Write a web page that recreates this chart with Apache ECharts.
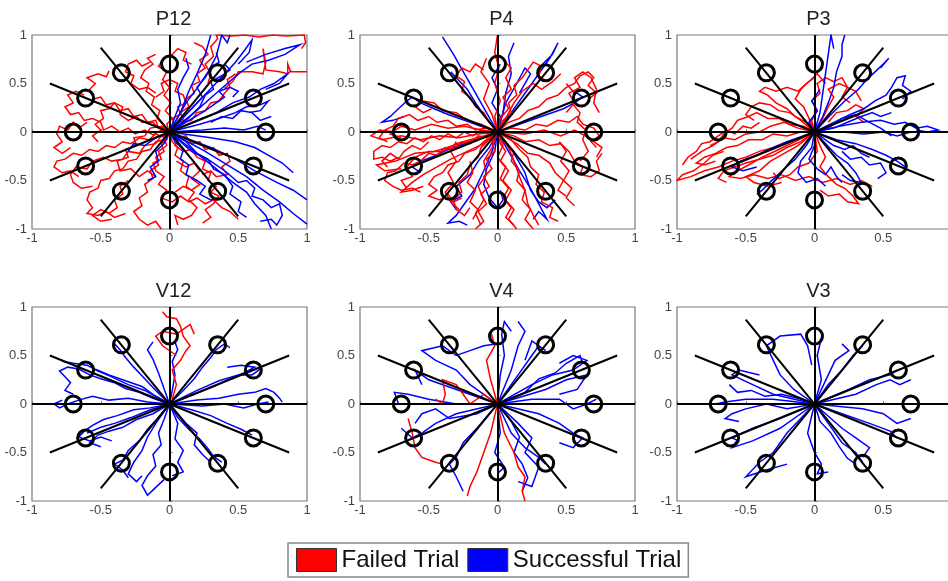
<!DOCTYPE html>
<html>
<head>
<meta charset="utf-8">
<script src="https://cdn.jsdelivr.net/npm/echarts@6/dist/echarts.min.js"></script>
<style>
html,body{margin:0;padding:0;background:#fff;overflow:hidden;}
#chart{width:960px;height:581px;}
</style>
</head>
<body>
<div id="chart"></div>
<script>
// ---------------- DATA ----------------
const panelTitles = ['P12', 'P4', 'P3', 'V12', 'V4', 'V3'];
const tickValues = [-1, -0.5, 0, 0.5, 1];
const seriesNames = ['Failed Trial', 'Successful Trial'];

// target circles (x, y)
const targetX = [0.7, 0.61, 0.35, 0, -0.35, -0.61, -0.7, -0.61, -0.35, 0, 0.35, 0.61];
const targetY = [0, 0.35, 0.61, 0.7, 0.61, 0.35, 0, -0.35, -0.61, -0.7, -0.61, -0.35];

// guide lines through origin [x1, y1, x2, y2]
const guideLines = [
  [-1, 0, 1, 0],
  [0, -1, 0, 1],
  [-0.87, 0.5, 0.87, -0.5],
  [-0.87, -0.5, 0.87, 0.5],
  [-0.5, 0.87, 0.5, -0.87],
  [-0.5, -0.87, 0.5, 0.87]
];

// trajectories: each path is a flat list x1,y1,x2,y2,...
const P12_failed = [
  [0,0, -0.04,0.06, -0.08,0.04, -0.1,0.12, -0.16,0.1, -0.2,0.18, -0.26,0.16, -0.3,0.24, -0.36,0.22, -0.4,0.3, -0.46,0.28, -0.5,0.36, -0.55,0.34, -0.58,0.44, -0.54,0.5, -0.6,0.56, -0.52,0.6, -0.46,0.57, -0.44,0.63],
  [0,0, -0.06,0.02, -0.12,-0.03, -0.18,0.02, -0.25,-0.02, -0.3,0.04, -0.36,0.0, -0.42,0.06, -0.48,0.02, -0.5,0.1, -0.56,0.14, -0.62,0.12, -0.66,0.2, -0.72,0.18, -0.76,0.26, -0.7,0.3, -0.74,0.38, -0.68,0.42, -0.62,0.38],
  [0,0, -0.05,-0.05, -0.1,-0.02, -0.15,-0.08, -0.22,-0.06, -0.28,-0.12, -0.34,-0.1, -0.4,-0.16, -0.46,-0.14, -0.52,-0.2, -0.58,-0.18, -0.64,-0.24, -0.7,-0.22, -0.76,-0.28, -0.82,-0.3, -0.84,-0.36, -0.78,-0.42, -0.72,-0.4, -0.66,-0.46],
  [0,0, -0.04,-0.08, -0.1,-0.1, -0.14,-0.18, -0.2,-0.2, -0.24,-0.28, -0.3,-0.3, -0.34,-0.38, -0.4,-0.4, -0.44,-0.48, -0.5,-0.5, -0.52,-0.58, -0.58,-0.62, -0.6,-0.7, -0.56,-0.78, -0.6,-0.84, -0.52,-0.86, -0.46,-0.82, -0.4,-0.88, -0.32,-0.84],
  [0,0, -0.02,-0.08, -0.06,-0.12, -0.04,-0.2, -0.1,-0.26, -0.08,-0.34, -0.14,-0.4, -0.12,-0.48, -0.18,-0.54, -0.16,-0.62, -0.22,-0.68, -0.2,-0.76, -0.26,-0.82, -0.22,-0.9, -0.16,-0.96, -0.1,-0.92, -0.06,-1.0],
  [0,0, 0.02,-0.1, 0.06,-0.16, 0.04,-0.24, 0.1,-0.3, 0.08,-0.4, 0.14,-0.46, 0.12,-0.56, 0.18,-0.62, 0.14,-0.7, 0.2,-0.78, 0.16,-0.86, 0.1,-0.9, 0.04,-0.86, 0.06,-0.96],
  [0,0, 0.06,-0.06, 0.12,-0.04, 0.16,-0.12, 0.22,-0.1, 0.26,-0.18, 0.32,-0.16, 0.36,-0.24, 0.42,-0.22, 0.44,-0.3, 0.38,-0.36, 0.42,-0.44, 0.34,-0.46, 0.3,-0.4, 0.24,-0.44],
  [0,0, -0.02,0.08, 0.02,0.14, -0.03,0.22, 0.01,0.3, -0.04,0.38, 0,0.46, -0.05,0.54, -0.02,0.62, -0.08,0.68, -0.04,0.76, 0.02,0.8, 0.06,0.86, 0.12,0.82, 0.1,0.74, 0.16,0.7],
  [0,0, -0.05,0.08, -0.09,0.14, -0.07,0.22, -0.13,0.28, -0.11,0.36, -0.17,0.42, -0.15,0.5, -0.21,0.56, -0.18,0.64, -0.12,0.7, -0.16,0.76, -0.1,0.8],
  [0,0, 0.04,0.08, 0.1,0.12, 0.08,0.2, 0.14,0.26, 0.12,0.34, 0.18,0.4, 0.16,0.48, 0.22,0.52, 0.2,0.6, 0.26,0.66, 0.22,0.74, 0.28,0.8, 0.24,0.88, 0.18,0.92],
  [0.28,0.5, 0.3,0.6, 0.26,0.7, 0.32,0.78, 0.3,0.88, 0.35,0.96, 0.34,1.0, 0.45,0.99, 0.55,1.0, 0.65,0.98, 0.75,1.0, 0.85,0.99, 0.98,1.0, 0.99,0.92, 0.96,0.86],
  [0.4,0.45, 0.46,0.52, 0.5,0.62, 0.6,0.62, 0.68,0.6, 0.7,0.72, 0.68,0.86, 0.7,0.64, 0.8,0.62, 0.86,0.6, 0.86,0.7, 0.88,0.62, 1.0,0.62],
  [0,0, 0.06,0.04, 0.1,0.1, 0.16,0.12, 0.2,0.2, 0.26,0.22, 0.3,0.3, 0.36,0.32, 0.4,0.4, 0.44,0.46, 0.42,0.54, 0.48,0.6],
  [0,0, -0.08,0.04, -0.12,0.1, -0.2,0.1, -0.24,0.16, -0.3,0.12, -0.36,0.18, -0.34,0.26, -0.4,0.3, -0.44,0.24, -0.5,0.22, -0.48,0.14, -0.54,0.08, -0.5,0.02, -0.56,-0.04, -0.52,-0.1],
  [0,0, -0.06,-0.04, -0.1,-0.12, -0.18,-0.14, -0.22,-0.22, -0.3,-0.2, -0.34,-0.28, -0.42,-0.3, -0.48,-0.26, -0.56,-0.3, -0.6,-0.38, -0.68,-0.36, -0.72,-0.44, -0.7,-0.52, -0.64,-0.58, -0.56,-0.56],
  [0,0, -0.04,-0.06, -0.02,-0.14, -0.08,-0.2, -0.06,-0.28, -0.12,-0.32, -0.1,-0.4, -0.04,-0.46, -0.08,-0.54, -0.02,-0.6, -0.06,-0.68, 0.02,-0.72, 0.08,-0.66, 0.14,-0.72, 0.2,-0.68, 0.26,-0.74, 0.32,-0.7, 0.38,-0.78, 0.44,-0.82, 0.5,-0.9],
  [0,0, 0.06,-0.08, 0.04,-0.14, 0.1,-0.2, 0.16,-0.18, 0.2,-0.26, 0.26,-0.3, 0.24,-0.38, 0.3,-0.42, 0.28,-0.5, 0.34,-0.56, 0.3,-0.62, 0.36,-0.66, 0.32,-0.74, 0.26,-0.8, 0.3,-0.88, 0.24,-0.94],
  [-0.1,0.4, -0.16,0.46, -0.22,0.44, -0.28,0.5, -0.26,0.58, -0.32,0.62, -0.3,0.7, -0.24,0.74, -0.2,0.68, -0.14,0.72],
  [-0.3,-0.5, -0.36,-0.56, -0.34,-0.64, -0.4,-0.7, -0.38,-0.78, -0.44,-0.84, -0.5,-0.8, -0.56,-0.86, -0.5,-0.92, -0.42,-0.9],
  [0,0, -0.06,0.06, -0.14,0.04, -0.18,-0.04, -0.26,-0.06, -0.24,-0.14, -0.32,-0.18, -0.3,-0.26, -0.38,-0.3, -0.36,-0.4, -0.28,-0.38, -0.22,-0.46, -0.16,-0.4, -0.1,-0.46],
  [0,0, 0.04,0.06, 0.02,0.14, 0.08,0.18, 0.06,0.26, 0.12,0.3, 0.1,0.38, 0.04,0.42, 0.06,0.5, 0,0.54, -0.06,0.5, -0.04,0.42, -0.1,0.36],
  [-0.6,0.1, -0.66,0.04, -0.7,0.1, -0.74,0.02, -0.8,0.06, -0.82,-0.02, -0.78,-0.1, -0.84,-0.16, -0.78,-0.22, -0.72,-0.16],
  [0.05,-0.3, 0.12,-0.36, 0.18,-0.32, 0.22,-0.4, 0.16,-0.48, 0.22,-0.54, 0.16,-0.6, 0.1,-0.56, 0.04,-0.62]
];
const P12_success = [
  [0,0, 0.08,0.2, 0.14,0.42, 0.2,0.6, 0.26,0.8, 0.3,1.0],
  [0,0, 0.12,0.3, 0.2,0.45, 0.28,0.62, 0.34,0.78, 0.38,1.0, 0.42,0.92, 0.44,1.0],
  [0,0, 0.18,0.2, 0.3,0.35, 0.42,0.5, 0.52,0.62, 0.6,0.7, 0.72,0.74, 0.84,0.8, 0.95,0.9, 0.84,0.86, 0.7,0.8, 0.56,0.72],
  [0,0, 0.2,0.3, 0.35,0.52, 0.48,0.72, 0.55,0.85, 0.6,0.95, 0.58,0.82, 0.5,0.7],
  [0,0, 0.2,0.12, 0.34,0.2, 0.46,0.3, 0.58,0.36, 0.66,0.44, 0.76,0.5, 0.82,0.56, 0.86,0.6, 0.8,0.5, 0.7,0.44],
  [0,0, 0.22,0.08, 0.36,0.14, 0.48,0.2, 0.56,0.26, 0.66,0.28, 0.72,0.32, 0.66,0.22, 0.58,0.2],
  [0,0, 0.26,0.22, 0.34,0.3, 0.4,0.36, 0.36,0.42, 0.44,0.46, 0.5,0.42, 0.46,0.36],
  [0,0, 0.12,0.12, 0.22,0.26, 0.26,0.38, 0.32,0.44, 0.3,0.52, 0.38,0.58, 0.44,0.64, 0.4,0.7],
  [0,0, 0.3,-0.16, 0.48,-0.28, 0.62,-0.4, 0.78,-0.52, 0.9,-0.6, 1.0,-0.7],
  [0,0, 0.26,-0.2, 0.42,-0.34, 0.56,-0.46, 0.68,-0.6, 0.8,-0.72, 0.9,-0.84, 1.0,-0.95],
  [0,0, 0.2,-0.22, 0.34,-0.38, 0.46,-0.52, 0.56,-0.62, 0.62,-0.74, 0.7,-0.86, 0.74,-1.0],
  [0,0, 0.16,-0.2, 0.3,-0.3, 0.42,-0.42, 0.5,-0.52, 0.56,-0.5, 0.62,-0.58, 0.6,-0.66, 0.68,-0.7, 0.74,-0.78, 0.8,-0.74, 0.82,-0.86, 0.78,-0.96, 0.74,-0.9, 0.66,-0.92],
  [0,0, 0.12,-0.1, 0.2,-0.22, 0.28,-0.28, 0.32,-0.38, 0.4,-0.44, 0.46,-0.56, 0.44,-0.64, 0.52,-0.72, 0.5,-0.82, 0.56,-0.88],
  [0,0, 0.3,-0.06, 0.48,-0.1, 0.62,-0.16, 0.72,-0.24, 0.82,-0.32, 0.9,-0.42],
  [0,0, 0.24,0.02, 0.4,0.04, 0.54,0.02, 0.64,0.06, 0.7,0.02],
  [0,0, 0.04,-0.1, 0.1,-0.18, 0.08,-0.28, 0.14,-0.34, 0.12,-0.44, 0.2,-0.5, 0.26,-0.56, 0.22,-0.64, 0.3,-0.7, 0.36,-0.68],
  [0,0, -0.04,-0.12, -0.1,-0.2, -0.08,-0.3, -0.14,-0.36, -0.1,-0.46, -0.16,-0.5],
  [0,0, 0.04,0.16, 0.08,0.3, 0.06,0.44, 0.1,0.56, 0.14,0.66, 0.12,0.76],
  [0,0, 0.16,0.24, 0.24,0.36, 0.2,0.46, 0.26,0.56, 0.3,0.66, 0.36,0.72, 0.34,0.82],
  [0,0, -0.1,-0.06, -0.18,-0.14, -0.26,-0.12, -0.3,-0.2],
  [0.3,0.1, 0.38,0.16, 0.46,0.14, 0.52,0.22, 0.6,0.2, 0.66,0.12, 0.74,0.16]
];

const P4_failed = [
  [0,0, -0.06,-0.02, -0.12,0.02, -0.18,-0.04, -0.24,0.0, -0.3,-0.06, -0.36,-0.02, -0.42,-0.08, -0.48,-0.04, -0.54,-0.1, -0.6,-0.06, -0.66,-0.12, -0.72,-0.1, -0.78,-0.16, -0.84,-0.14, -0.9,-0.2, -0.9,-0.28, -0.84,-0.26, -0.78,-0.3, -0.72,-0.26],
  [0,0, -0.08,-0.06, -0.14,-0.04, -0.2,-0.12, -0.26,-0.1, -0.32,-0.18, -0.38,-0.16, -0.44,-0.24, -0.5,-0.22, -0.56,-0.3, -0.62,-0.34, -0.68,-0.32, -0.74,-0.4, -0.8,-0.42, -0.82,-0.5, -0.76,-0.56, -0.7,-0.6, -0.62,-0.58, -0.56,-0.62],
  [0,0, -0.08,0.04, -0.16,0.02, -0.22,0.08, -0.3,0.06, -0.36,0.12, -0.44,0.1, -0.5,0.16, -0.58,0.12, -0.64,0.18, -0.72,0.14, -0.76,0.06, -0.82,0.02, -0.86,-0.06, -0.8,-0.1],
  [0,0, -0.1,-0.1, -0.16,-0.18, -0.24,-0.22, -0.28,-0.3, -0.36,-0.34, -0.4,-0.42, -0.46,-0.46, -0.5,-0.54, -0.44,-0.6, -0.5,-0.66, -0.42,-0.7, -0.36,-0.64, -0.32,-0.72, -0.26,-0.68],
  [0,0, -0.04,-0.1, -0.02,-0.2, -0.08,-0.28, -0.04,-0.38, -0.1,-0.46, -0.06,-0.56, -0.12,-0.64, -0.08,-0.74, -0.14,-0.82, -0.1,-0.92, -0.16,-1.0],
  [0,0, 0.02,-0.12, 0.06,-0.2, 0.02,-0.3, 0.08,-0.4, 0.04,-0.5, 0.1,-0.6, 0.06,-0.7, 0.12,-0.8, 0.08,-0.9, 0.14,-1.0],
  [0,0, 0.06,-0.1, 0.12,-0.2, 0.1,-0.3, 0.16,-0.4, 0.14,-0.5, 0.2,-0.6, 0.18,-0.7, 0.24,-0.8, 0.2,-0.9, 0.26,-1.0],
  [0,0, 0.1,-0.08, 0.16,-0.18, 0.22,-0.26, 0.24,-0.36, 0.3,-0.44, 0.28,-0.54, 0.34,-0.62, 0.32,-0.72, 0.4,-0.78, 0.38,-0.88, 0.44,-0.92],
  [0,0, 0.12,-0.04, 0.2,-0.1, 0.3,-0.08, 0.38,-0.14, 0.46,-0.12, 0.52,-0.2, 0.56,-0.3, 0.62,-0.36, 0.6,-0.44, 0.68,-0.46, 0.74,-0.4, 0.72,-0.3, 0.76,-0.22],
  [0,0, 0.1,0.04, 0.2,0.02, 0.28,0.08, 0.36,0.06, 0.44,0.12, 0.52,0.1, 0.58,0.16, 0.62,0.08, 0.7,0.04, 0.74,-0.04, 0.68,-0.1, 0.72,-0.16],
  [0,0, 0.08,0.1, 0.16,0.14, 0.22,0.22, 0.3,0.26, 0.36,0.34, 0.44,0.38, 0.5,0.46, 0.56,0.5, 0.6,0.58, 0.66,0.62, 0.7,0.56, 0.66,0.48, 0.72,0.4, 0.66,0.34],
  [0,0, 0.04,0.12, 0.1,0.2, 0.08,0.3, 0.14,0.38, 0.12,0.48, 0.18,0.56, 0.22,0.64, 0.26,0.72, 0.32,0.68, 0.3,0.58, 0.36,0.52],
  [0,0, -0.02,0.16, 0.02,0.32, -0.02,0.5, 0.01,0.66, -0.02,0.82, 0,1.0],
  [0,0, -0.06,0.1, -0.1,0.2, -0.16,0.26, -0.2,0.36, -0.26,0.42, -0.24,0.52, -0.3,0.58, -0.26,0.66, -0.2,0.62, -0.16,0.7, -0.1,0.64],
  [0,0, -0.12,0.08, -0.22,0.12, -0.3,0.2, -0.4,0.22, -0.46,0.3, -0.54,0.32, -0.6,0.26, -0.54,0.2, -0.48,0.24],
  [0,0, -0.06,-0.08, -0.12,-0.16, -0.14,-0.26, -0.2,-0.34, -0.22,-0.44, -0.28,-0.52, -0.26,-0.62, -0.32,-0.7, -0.3,-0.8, -0.24,-0.86, -0.2,-0.78],
  [0.5,0.5, 0.56,0.4, 0.54,0.3, 0.6,0.2, 0.58,0.1, 0.64,0.02, 0.62,-0.08, 0.66,-0.2, 0.6,-0.3],
  [0,0, -0.1,-0.04, -0.2,-0.08, -0.3,-0.12, -0.4,-0.2, -0.5,-0.2, -0.6,-0.26, -0.66,-0.36, -0.62,-0.46, -0.7,-0.5, -0.66,-0.58],
  [0,0, 0.04,-0.14, 0.0,-0.26, 0.06,-0.36, 0.02,-0.48, 0.08,-0.58, 0.04,-0.68, 0.1,-0.78, 0.06,-0.88, 0.12,-0.96],
  [0,0, 0.14,-0.12, 0.22,-0.22, 0.3,-0.24, 0.38,-0.32, 0.42,-0.42, 0.48,-0.5, 0.44,-0.6, 0.5,-0.66],
  [-0.2,-0.3, -0.18,-0.42, -0.22,-0.52, -0.16,-0.6, -0.2,-0.72, -0.14,-0.8, -0.18,-0.9],
  [0,0, 0.02,0.14, 0.08,0.24, 0.04,0.36, 0.1,0.44, 0.06,0.56, 0.1,0.66, 0.04,0.74],
  [-0.5,-0.1, -0.56,-0.18, -0.62,-0.14, -0.68,-0.2, -0.72,-0.28, -0.78,-0.22, -0.84,-0.3, -0.8,-0.36],
  [0,0, -0.14,-0.02, -0.28,-0.06, -0.42,-0.04, -0.56,-0.08, -0.7,-0.04, -0.84,-0.08, -0.92,-0.04, -0.86,0.02, -0.74,0.0],
  [0,0, -0.16,-0.08, -0.32,-0.14, -0.46,-0.2, -0.6,-0.22, -0.74,-0.3, -0.88,-0.34, -0.82,-0.4, -0.7,-0.38],
  [0,0, -0.12,0.02, -0.24,0.06, -0.36,0.04, -0.48,0.08, -0.6,0.02, -0.7,0.06, -0.78,-0.02, -0.7,-0.06],
  [0,0, -0.1,-0.12, -0.22,-0.2, -0.34,-0.28, -0.44,-0.36, -0.54,-0.44, -0.62,-0.52, -0.7,-0.62, -0.62,-0.6, -0.54,-0.56],
  [0.5,0.2, 0.56,0.3, 0.52,0.4, 0.6,0.46, 0.56,0.56, 0.62,0.62, 0.68,0.56, 0.72,0.44, 0.7,0.3, 0.74,0.2],
  [0.45,-0.1, 0.5,-0.2, 0.46,-0.3, 0.52,-0.4, 0.48,-0.5, 0.54,-0.58, 0.5,-0.68, 0.56,-0.76],
  [0,0, -0.04,-0.16, -0.1,-0.3, -0.08,-0.44, -0.14,-0.56, -0.1,-0.7, -0.16,-0.84, -0.12,-0.96],
  [0,0, 0.08,-0.16, 0.12,-0.3, 0.16,-0.46, 0.2,-0.6, 0.22,-0.74, 0.26,-0.86, 0.3,-0.96],
  [0,0, 0.06,0.14, 0.12,0.3, 0.18,0.42, 0.26,0.5, 0.32,0.44, 0.4,0.52, 0.46,0.6],
  [0,0, -0.04,0.18, -0.1,0.34, -0.06,0.5, -0.12,0.62, -0.08,0.76],
  [0,0, 0.2,-0.02, 0.34,0.02, 0.46,-0.04, 0.56,0.02, 0.64,-0.04, 0.7,-0.1, 0.76,-0.16, 0.72,-0.26],
  [-0.3,-0.1, -0.34,-0.2, -0.3,-0.3, -0.36,-0.42, -0.32,-0.52, -0.38,-0.62, -0.34,-0.72, -0.28,-0.8]
];
const P4_success = [
  [0,0, -0.12,0.06, -0.24,0.12, -0.36,0.18, -0.46,0.24, -0.56,0.3, -0.62,0.36, -0.66,0.32, -0.72,0.24, -0.78,0.16, -0.84,0.1, -0.76,0.12, -0.68,0.16],
  [0,0, -0.08,0.2, -0.16,0.4, -0.24,0.6, -0.32,0.8, -0.4,0.98],
  [0,0, 0.04,0.2, 0.06,0.4, 0.1,0.6, 0.08,0.78, 0.12,0.92],
  [0,0, 0.1,0.2, 0.2,0.4, 0.3,0.6, 0.38,0.76, 0.44,0.92, 0.4,0.8, 0.3,0.66],
  [0,0, -0.04,-0.2, -0.1,-0.4, -0.16,-0.58, -0.24,-0.74, -0.3,-0.86, -0.36,-0.94, -0.28,-0.92, -0.22,-0.96],
  [0,0, 0.08,-0.2, 0.16,-0.4, 0.24,-0.58, 0.3,-0.74, 0.36,-0.9, 0.3,-0.82, 0.26,-0.9],
  [0,0, -0.02,-0.2, -0.08,-0.38, -0.1,-0.54, -0.06,-0.68, 0.0,-0.78, 0.04,-0.7, 0.02,-0.6],
  [0,0, 0.2,0.1, 0.36,0.18, 0.48,0.24, 0.56,0.3, 0.62,0.36, 0.56,0.42],
  [0,0, 0.02,0.16, -0.04,0.3, 0.0,0.44, -0.04,0.56, 0.02,0.7],
  [0,0, -0.2,-0.1, -0.36,-0.18, -0.48,-0.26, -0.56,-0.3, -0.62,-0.36, -0.56,-0.42],
  [0,0, -0.08,0.14, -0.16,0.3, -0.22,0.44, -0.3,0.56, -0.34,0.62],
  [0,0, -0.06,-0.16, -0.14,-0.3, -0.2,-0.44, -0.3,-0.56, -0.26,-0.66, -0.34,-0.72, -0.3,-0.8],
  [0,0, 0.06,0.3, 0.14,0.5, 0.2,0.66, 0.24,0.6, 0.16,0.4],
  [0,0, 0.12,-0.22, 0.2,-0.42, 0.24,-0.6, 0.3,-0.72, 0.36,-0.78, 0.42,-0.7]
];

const P3_failed = [
  [0,0, -0.1,-0.06, -0.2,-0.1, -0.3,-0.16, -0.4,-0.2, -0.5,-0.26, -0.6,-0.3, -0.7,-0.36, -0.8,-0.4, -0.9,-0.46, -1.0,-0.5, -0.96,-0.44, -0.88,-0.4, -0.8,-0.32, -0.74,-0.24, -0.66,-0.2],
  [0,0, -0.1,0.0, -0.2,-0.04, -0.3,-0.02, -0.38,-0.08, -0.48,-0.08, -0.56,-0.14, -0.64,-0.16, -0.72,-0.22, -0.8,-0.26, -0.86,-0.32, -0.8,-0.34, -0.72,-0.3],
  [0,0, -0.08,0.06, -0.18,0.08, -0.26,0.14, -0.34,0.14, -0.42,0.2, -0.48,0.16, -0.56,0.12, -0.6,0.04, -0.66,-0.02, -0.7,-0.1, -0.76,-0.14],
  [0,0, -0.06,0.1, -0.14,0.16, -0.2,0.24, -0.28,0.3, -0.34,0.38, -0.4,0.42, -0.36,0.46, -0.28,0.42, -0.2,0.46, -0.12,0.42, -0.06,0.5, 0.0,0.56],
  [0,0, -0.02,0.12, 0.02,0.22, -0.02,0.32, 0.04,0.4, 0.02,0.5, 0.08,0.56, 0.14,0.52, 0.2,0.56, 0.24,0.46, 0.3,0.42, 0.34,0.32],
  [0,0, -0.14,-0.1, -0.26,-0.18, -0.38,-0.26, -0.48,-0.34, -0.56,-0.4, -0.62,-0.46, -0.54,-0.48, -0.44,-0.44, -0.34,-0.48, -0.24,-0.44, -0.14,-0.5, -0.04,-0.46, 0.06,-0.52, 0.16,-0.48, 0.26,-0.54, 0.34,-0.5, 0.42,-0.56],
  [0,0, -0.12,-0.14, -0.22,-0.22, -0.32,-0.3, -0.4,-0.4, -0.5,-0.46, -0.44,-0.52, -0.34,-0.56, -0.24,-0.52],
  [0,0, 0.04,-0.14, 0.08,-0.26, 0.04,-0.36, 0.1,-0.46, 0.16,-0.54, 0.22,-0.58, 0.28,-0.66, 0.32,-0.74, 0.24,-0.72, 0.18,-0.64, 0.1,-0.66, 0.04,-0.6],
  [0,0, -0.12,0.04, -0.22,0.1, -0.32,0.06, -0.4,0.0, -0.5,-0.02, -0.58,-0.08, -0.66,-0.06, -0.74,-0.14, -0.82,-0.2, -0.9,-0.28],
  [0,0, 0.06,0.14, 0.1,0.26, 0.14,0.36, 0.1,0.44, 0.18,0.5, 0.24,0.46, 0.2,0.36, 0.26,0.3],
  [0,0, -0.1,-0.1, -0.2,-0.16, -0.3,-0.24, -0.4,-0.28, -0.5,-0.32, -0.58,-0.36, -0.66,-0.4, -0.7,-0.48, -0.64,-0.52],
  [0,0, -0.1,0.12, -0.18,0.2, -0.26,0.22, -0.32,0.28, -0.4,0.3, -0.46,0.26, -0.5,0.18, -0.44,0.12],
  [0,0, 0.02,-0.2, -0.04,-0.32, -0.12,-0.36, -0.18,-0.44, -0.26,-0.48, -0.3,-0.42],
  [0,0, -0.04,0.14, -0.08,0.26, -0.14,0.34, -0.1,0.44, -0.04,0.52, 0.02,0.6, 0.08,0.5],
  [-0.4,0.1, -0.46,0.04, -0.52,0.06, -0.58,-0.02, -0.64,0.02, -0.7,-0.04, -0.76,-0.1, -0.82,-0.12, -0.86,-0.2, -0.92,-0.26, -0.96,-0.34],
  [0.1,0.1, 0.16,0.2, 0.24,0.22, 0.3,0.28, 0.36,0.24, 0.3,0.16, 0.36,0.1]
];
const P3_success = [
  [0,0, 0.06,0.16, 0.1,0.3, 0.14,0.46, 0.16,0.62, 0.2,0.78, 0.2,0.9, 0.22,1.0],
  [0,0, 0.04,0.2, 0.06,0.4, 0.08,0.6, 0.1,0.8, 0.12,1.0, 0.14,0.86],
  [0,0, 0.12,0.18, 0.22,0.32, 0.32,0.44, 0.38,0.54, 0.44,0.62, 0.5,0.7, 0.54,0.76, 0.48,0.66],
  [0,0, 0.14,0.1, 0.26,0.18, 0.36,0.24, 0.44,0.32, 0.52,0.38, 0.56,0.46, 0.6,0.56, 0.66,0.58, 0.64,0.48, 0.7,0.42, 0.64,0.34],
  [0,0, 0.18,0.06, 0.34,0.1, 0.48,0.12, 0.58,0.08, 0.66,0.1, 0.74,0.04, 0.82,0.06, 0.9,0.02, 0.82,0.0, 0.74,0.02],
  [0,0, 0.2,0.0, 0.36,-0.02, 0.5,0.0, 0.6,-0.04, 0.7,0.0],
  [0,0, 0.16,-0.08, 0.3,-0.12, 0.42,-0.18, 0.52,-0.24, 0.6,-0.3, 0.66,-0.36],
  [0,0, 0.08,-0.12, 0.16,-0.24, 0.24,-0.32, 0.3,-0.42, 0.34,-0.52, 0.26,-0.5, 0.2,-0.44],
  [0,0, 0.0,-0.14, -0.04,-0.28, 0.02,-0.38, 0.08,-0.44, 0.12,-0.36, 0.16,-0.46, 0.2,-0.52],
  [0,0, -0.06,-0.14, -0.14,-0.28, -0.22,-0.38, -0.28,-0.46, -0.34,-0.54, -0.38,-0.6, -0.42,-0.64],
  [0,0, -0.16,-0.08, -0.3,-0.16, -0.42,-0.24, -0.54,-0.3, -0.6,-0.36, -0.52,-0.4, -0.42,-0.36],
  [0,0, 0.06,-0.06, 0.14,-0.14, 0.22,-0.18, 0.28,-0.14, 0.34,-0.22, 0.4,-0.26],
  [0,0, 0.14,0.04, 0.24,0.1, 0.34,0.16, 0.42,0.2, 0.48,0.16, 0.56,0.2],
  [0,0, -0.02,-0.16, -0.1,-0.3, -0.12,-0.42, -0.06,-0.52, 0.02,-0.48, 0.08,-0.56],
  [0,0, 0.1,0.04, 0.2,0.14, 0.3,0.18, 0.4,0.1, 0.48,0.04, 0.56,-0.04],
  [0.2,-0.2, 0.26,-0.28, 0.34,-0.26, 0.4,-0.34, 0.48,-0.32, 0.52,-0.42, 0.46,-0.48],
  [0,0, -0.04,0.1, 0.02,0.22, -0.02,0.32, 0.04,0.44]
];

const V12_failed = [
  [0.02,0.05, 0.05,0.2, 0.02,0.35, 0.08,0.45, 0.12,0.55, 0.15,0.6, 0.1,0.7, 0.08,0.8, 0.05,0.88, -0.02,0.9, -0.05,0.95],
  [0.05,0.5, -0.05,0.6, -0.1,0.7, -0.05,0.75, 0.05,0.72, 0.15,0.82, 0.18,0.72]
];
const V12_success = [
  [0,0, -0.12,0.06, -0.22,0.12, -0.32,0.16, -0.4,0.22, -0.5,0.26, -0.58,0.3, -0.66,0.36, -0.74,0.38, -0.8,0.34, -0.76,0.28, -0.72,0.22, -0.76,0.14, -0.7,0.1],
  [0,0, -0.16,0.02, -0.3,0.06, -0.44,0.04, -0.56,0.08, -0.66,0.04, -0.74,0.0, -0.8,-0.04, -0.84,0.0, -0.78,0.04],
  [0,0, -0.1,0.14, -0.18,0.26, -0.26,0.38, -0.32,0.48, -0.36,0.56, -0.4,0.62],
  [0,0, -0.14,-0.04, -0.26,-0.06, -0.38,-0.12, -0.48,-0.16, -0.56,-0.22, -0.62,-0.28, -0.66,-0.34, -0.58,-0.38, -0.5,-0.34, -0.42,-0.38],
  [0,0, -0.08,-0.14, -0.16,-0.26, -0.22,-0.38, -0.3,-0.48, -0.34,-0.58, -0.4,-0.62, -0.34,-0.68, -0.3,-0.76],
  [0,0, -0.04,-0.16, -0.08,-0.3, -0.06,-0.42, -0.12,-0.52, -0.1,-0.64, -0.16,-0.74, -0.2,-0.84, -0.16,-0.94, -0.1,-0.86, -0.04,-0.78],
  [0,0, 0.06,-0.14, 0.14,-0.26, 0.22,-0.36, 0.28,-0.46, 0.32,-0.54, 0.38,-0.6],
  [0,0, 0.16,-0.06, 0.3,-0.12, 0.42,-0.2, 0.52,-0.26, 0.6,-0.32],
  [0,0, 0.2,0.04, 0.36,0.06, 0.5,0.1, 0.62,0.12, 0.7,0.16, 0.76,0.12, 0.8,0.06, 0.82,0.02],
  [0,0, 0.18,0.1, 0.32,0.18, 0.44,0.26, 0.54,0.32, 0.62,0.38, 0.52,0.4, 0.42,0.38],
  [0,0, 0.1,0.14, 0.18,0.26, 0.24,0.38, 0.3,0.48, 0.34,0.56, 0.4,0.62, 0.44,0.58],
  [0,0, 0.02,0.14, 0.04,0.3, 0.02,0.44, 0.06,0.56, 0.04,0.64],
  [0,0, -0.04,0.16, -0.08,0.32, -0.12,0.46, -0.16,0.56, -0.12,0.64],
  [0,0, 0.06,-0.2, 0.04,-0.36, 0.1,-0.48, 0.06,-0.6, 0.1,-0.7, 0.02,-0.74],
  [0,0, -0.18,0.14, -0.3,0.2, -0.42,0.28, -0.52,0.34, -0.6,0.4, -0.7,0.42, -0.78,0.44],
  [0,0, -0.12,-0.1, -0.24,-0.16, -0.34,-0.24, -0.44,-0.28, -0.52,-0.32, -0.58,-0.4, -0.5,-0.44],
  [0,0, 0.24,-0.02, 0.4,0.0, 0.54,-0.04, 0.64,0.0, 0.72,0.02],
  [0,0, -0.1,-0.2, -0.16,-0.34, -0.2,-0.48, -0.26,-0.6, -0.3,-0.72, -0.24,-0.8, -0.2,-0.74],
  [0,0, 0.12,-0.2, 0.2,-0.3, 0.18,-0.42, 0.24,-0.52, 0.3,-0.6],
  [0,0, -0.1,0.08, -0.2,0.18, -0.32,0.24, -0.44,0.3, -0.54,0.36],
  [0,0, 0.2,0.14, 0.36,0.24, 0.5,0.3, 0.6,0.3, 0.66,0.36],
  [0,0, -0.14,-0.06, -0.28,-0.14, -0.4,-0.2, -0.5,-0.24, -0.6,-0.3]
];

const V4_failed = [
  [0,0, -0.05,0.25, -0.08,0.45, -0.02,0.6, -0.05,0.75],
  [0,0, -0.1,0.1, -0.2,0.0, -0.25,0.1, -0.3,0.2, -0.4,0.25, -0.38,0.1, -0.4,0.0, -0.45,0.05],
  [-0.65,-0.15, -0.62,-0.3, -0.6,-0.45, -0.55,-0.55, -0.45,-0.6, -0.4,-0.62],
  [0,0, 0.05,-0.3, 0.12,-0.5, 0.15,-0.65, 0.2,-0.75, 0.18,-0.9, 0.2,-1.0],
  [0,0, -0.05,-0.3, -0.1,-0.5, -0.15,-0.7, -0.2,-0.85, -0.22,-0.95]
];
const V4_success = [
  [0,0, -0.2,0.2, -0.3,0.35, -0.45,0.45, -0.55,0.55, -0.4,0.6, -0.3,0.5, -0.2,0.55, -0.1,0.6, 0,0.62],
  [0,0, 0.02,0.3, 0.05,0.5, 0.03,0.72, 0.05,0.85, 0.1,0.75],
  [0,0, 0.15,0.3, 0.25,0.5, 0.3,0.6, 0.35,0.55, 0.25,0.65, 0.2,0.45],
  [0,0, 0.25,0.2, 0.4,0.3, 0.55,0.35, 0.65,0.45, 0.55,0.5, 0.45,0.42],
  [0,0, 0.25,0.05, 0.45,0.05, 0.55,-0.05, 0.65,0.0, 0.72,0.05],
  [0,0, 0.3,-0.1, 0.45,-0.2, 0.55,-0.3, 0.62,-0.35, 0.55,-0.45, 0.45,-0.4],
  [0,0, 0.1,-0.3, 0.2,-0.45, 0.3,-0.55, 0.35,-0.62],
  [0,0, 0.02,-0.3, -0.02,-0.5, 0.05,-0.65, 0,-0.72],
  [0,0, -0.15,-0.25, -0.25,-0.4, -0.3,-0.55, -0.35,-0.62, -0.3,-0.75, -0.25,-0.9],
  [0,0, -0.3,-0.1, -0.45,-0.2, -0.55,-0.3, -0.62,-0.35, -0.7,-0.25],
  [0,0, -0.3,0.0, -0.5,0.05, -0.65,0.1, -0.75,0.12, -0.72,0.0],
  [0,0, -0.3,0.15, -0.5,0.25, -0.6,0.35, -0.55,0.2],
  [0,0, 0.15,-0.2, 0.25,-0.35, 0.2,-0.5, 0.3,-0.65, 0.25,-0.85, 0.15,-0.8],
  [0,0, 0.35,0.15, 0.5,0.25, 0.65,0.3, 0.58,0.15, 0.45,0.1],
  [0,0, 0.1,0.35, 0.15,0.6, 0.2,0.75, 0.15,0.85],
  [0,0, -0.15,-0.1, -0.35,-0.15, -0.45,-0.05, -0.55,-0.1, -0.6,-0.2],
  [0,0, 0.1,-0.18, 0.16,-0.34, 0.12,-0.5, 0.18,-0.62, 0.22,-0.76, 0.18,-0.9],
  [0,0, 0.2,0.12, 0.3,0.26, 0.42,0.32, 0.5,0.42, 0.6,0.5, 0.62,0.42]
];

const V3_failed = [];
const V3_success = [
  [0,0, -0.15,0.15, -0.25,0.3, -0.3,0.45, -0.35,0.6, -0.25,0.7, -0.1,0.72, -0.05,0.6, -0.02,0.4],
  [0,0, -0.3,0.1, -0.45,0.2, -0.6,0.3, -0.55,0.35, -0.4,0.3],
  [0,0, -0.3,0.05, -0.5,0.05, -0.65,0.02, -0.72,0.0],
  [0,0, -0.2,-0.05, -0.35,0.0, -0.5,-0.05, -0.6,-0.1, -0.65,-0.15, -0.55,-0.18],
  [0,0, -0.25,-0.15, -0.45,-0.25, -0.6,-0.35, -0.55,-0.38],
  [0,0, -0.2,-0.3, -0.3,-0.5, -0.4,-0.6, -0.5,-0.75, -0.35,-0.68, -0.2,-0.62],
  [0,0, -0.05,-0.3, 0,-0.5, 0.05,-0.62, 0.02,-0.72, 0.1,-0.7],
  [0,0, 0.1,-0.2, 0.2,-0.4, 0.3,-0.5, 0.35,-0.6],
  [0,0, 0.2,-0.1, 0.4,-0.2, 0.55,-0.28, 0.6,-0.35],
  [0,0, 0.3,0.0, 0.5,0.0, 0.7,0.0],
  [0,0, 0.25,0.15, 0.4,0.25, 0.55,0.3, 0.6,0.35],
  [0,0, 0.1,0.2, 0.2,0.35, 0.28,0.5, 0.35,0.6],
  [0,0, 0.05,0.25, 0.02,0.5, 0.05,0.68],
  [0,0, 0.1,0.3, 0.15,0.45, 0.25,0.55, 0.2,0.62],
  [0,0, 0.2,-0.25, 0.3,-0.35, 0.4,-0.45, 0.35,-0.55],
  [0,0, -0.25,-0.25, -0.45,-0.38, -0.6,-0.45, -0.55,-0.35],
  [0,0, 0.3,0.1, 0.45,0.2, 0.55,0.25, 0.62,0.2, 0.7,0.25],
  [0,0, 0.35,-0.05, 0.5,-0.1, 0.6,-0.2, 0.7,-0.15],
  [0,0, -0.12,0.06, -0.24,0.1, -0.36,0.08, -0.46,0.14, -0.56,0.12, -0.62,0.2],
  [0,0, 0.04,-0.18, 0.12,-0.3, 0.18,-0.44, 0.24,-0.56, 0.3,-0.62]
];

const failedSets = [P12_failed, P4_failed, P3_failed, V12_failed, V4_failed, V3_failed];
const successSets = [P12_success, P4_success, P3_success, V12_success, V4_success, V3_success];
const redOnTop = [false, true, false, true, true, true];

// ---------------- LAYOUT ----------------
const gridLefts = [32, 360, 677];
const gridTops = [35, 307];
const gridW = 275, gridH = 194;

function toPairs(flat) {
  const out = [];
  for (let i = 0; i + 1 < flat.length; i += 2) out.push([flat[i], flat[i + 1]]);
  return out;
}

const grids = [], xAxes = [], yAxes = [], series = [], titles = [];
const labelStyle = { color: '#444', fontSize: 13, fontFamily: 'Liberation Sans, Arial, sans-serif' };

for (let p = 0; p < 6; p++) {
  const col = p % 3, row = Math.floor(p / 3);
  const left = gridLefts[col], top = gridTops[row];
  grids.push({ left: left, top: top, width: gridW, height: gridH, show: true,
    borderColor: '#7a7a7a', borderWidth: 1.2, backgroundColor: '#fff', containLabel: false });
  xAxes.push({ type: 'value', gridIndex: p, min: -1, max: 1, interval: 0.5,
    axisLine: { show: false }, splitLine: { show: false },
    axisTick: { show: true, inside: true, length: 3, lineStyle: { color: '#777' } },
    axisLabel: Object.assign({ margin: 3 }, labelStyle) });
  yAxes.push({ type: 'value', gridIndex: p, min: -1, max: 1, interval: 0.5,
    axisLine: { show: false }, splitLine: { show: false },
    axisTick: { show: true, inside: true, length: 3, lineStyle: { color: '#777' } },
    axisLabel: Object.assign({ margin: 5 }, labelStyle) });
  titles.push({ text: panelTitles[p], left: left + gridW / 2 - 1, top: top - 31, textAlign: 'center',
    textStyle: { fontSize: 20, fontWeight: 'normal', color: '#222', fontFamily: 'Liberation Sans, Arial, sans-serif' } });

  const redSeries = { type: 'lines', name: seriesNames[0], coordinateSystem: 'cartesian2d',
    xAxisIndex: p, yAxisIndex: p, polyline: true, silent: true,
    lineStyle: { color: '#ff0000', width: 1.5, opacity: 1 },
    data: failedSets[p].map(f => ({ coords: toPairs(f) })) };
  const blueSeries = { type: 'lines', name: seriesNames[1], coordinateSystem: 'cartesian2d',
    xAxisIndex: p, yAxisIndex: p, polyline: true, silent: true,
    lineStyle: { color: '#0000ff', width: 1.5, opacity: 1 },
    data: successSets[p].map(f => ({ coords: toPairs(f) })) };
  if (redOnTop[p]) { series.push(blueSeries, redSeries); } else { series.push(redSeries, blueSeries); }
  series.push({ type: 'lines', coordinateSystem: 'cartesian2d',
    xAxisIndex: p, yAxisIndex: p, silent: true,
    lineStyle: { color: '#000', width: 2, opacity: 1 },
    data: guideLines.map(g => ({ coords: [[g[0], g[1]], [g[2], g[3]]] })) });
  series.push({ type: 'scatter', xAxisIndex: p, yAxisIndex: p, silent: true,
    symbol: 'circle', symbolSize: 16,
    itemStyle: { color: 'rgba(0,0,0,0)', borderColor: '#000', borderWidth: 3, opacity: 1 },
    data: targetX.map((x, i) => [x, targetY[i]]) });
}

const chart = echarts.init(document.getElementById('chart'), null, { renderer: 'canvas' });
chart.setOption({
  animation: false,
  backgroundColor: '#fff',
  title: titles,
  grid: grids,
  xAxis: xAxes,
  yAxis: yAxes,
  legend: {
    left: 288, top: 543,
    orient: 'horizontal',
    padding: [5, 7, 5, 8],
    itemGap: 8,
    itemWidth: 40, itemHeight: 23,
    borderColor: '#888', borderWidth: 1.5,
    backgroundColor: '#fff',
    textStyle: { fontSize: 24, color: '#111', fontFamily: 'Liberation Sans, Arial, sans-serif' },
    selectedMode: false,
    data: [
      { name: seriesNames[0], icon: 'rect', itemStyle: { color: '#ff0000', borderColor: '#333', borderWidth: 1 } },
      { name: seriesNames[1], icon: 'rect', itemStyle: { color: '#0000ff', borderColor: '#333', borderWidth: 1 } }
    ]
  },
  series: series
});
</script>
</body>
</html>
